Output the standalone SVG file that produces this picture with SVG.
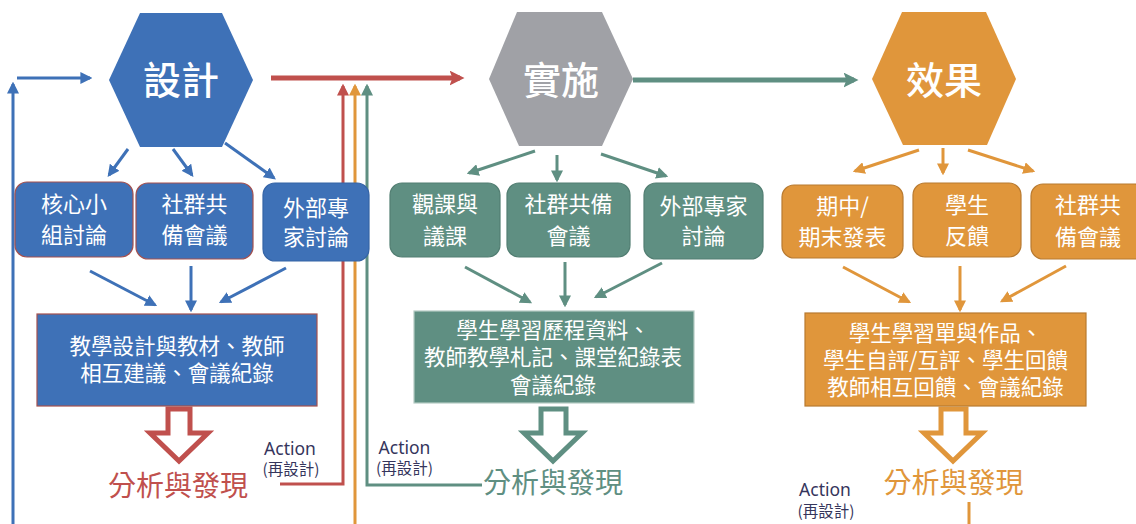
<svg xmlns="http://www.w3.org/2000/svg" width="1136" height="524" viewBox="0 0 1136 524">
<style>
text{font-family:"Noto Sans CJK TC","Noto Sans CJK SC",sans-serif;}
.hex{font-size:38px;fill:#fff;text-anchor:middle;font-weight:500}
.bt{font-size:22px;fill:#fff;text-anchor:middle}
.rt{font-size:21.5px;fill:#fff;text-anchor:middle}
.an{font-size:28px;text-anchor:middle}
.act{font-family:"Noto Sans","Open Sans",sans-serif;font-size:17.5px;fill:#35355c;text-anchor:middle}
.re{font-size:15.5px;fill:#35355c;text-anchor:middle}
.bl{stroke:#3e71b7;stroke-width:3;fill:none}
.gr{stroke:#5f8f82;stroke-width:3;fill:none}
.og{stroke:#e0963b;stroke-width:3;fill:none}
.rd{stroke:#c0504d;stroke-width:3;fill:none}
.hollow{fill:#fff;stroke-width:5;stroke-linejoin:miter}
</style>
<defs>
<marker id="mb" viewBox="0 0 10 10" refX="8" refY="5" markerWidth="4" markerHeight="4" orient="auto"><path d="M0,0 L10,5 L0,10 z" fill="#3e71b7"/></marker>
<marker id="mg" viewBox="0 0 10 10" refX="8" refY="5" markerWidth="4" markerHeight="4" orient="auto"><path d="M0,0 L10,5 L0,10 z" fill="#5f8f82"/></marker>
<marker id="mo" viewBox="0 0 10 10" refX="8" refY="5" markerWidth="4" markerHeight="4" orient="auto"><path d="M0,0 L10,5 L0,10 z" fill="#e0963b"/></marker>
<marker id="mr" viewBox="0 0 10 10" refX="8" refY="5" markerWidth="4" markerHeight="4" orient="auto"><path d="M0,0 L10,5 L0,10 z" fill="#c0504d"/></marker>
<marker id="mrT" viewBox="0 0 10 10" refX="7" refY="5" markerWidth="3" markerHeight="3" orient="auto"><path d="M0,0 L10,5 L0,10 L2,5 z" fill="#c0504d"/></marker>
<marker id="mgT" viewBox="0 0 10 10" refX="7" refY="5" markerWidth="3" markerHeight="3" orient="auto"><path d="M0,0 L10,5 L0,10 L2,5 z" fill="#5f8f82"/></marker>
</defs>

<g id="connectors">
<line class="bl" x1="17" y1="78" x2="90" y2="78" marker-end="url(#mb)"/>
<line class="bl" x1="13" y1="524" x2="13" y2="84" marker-end="url(#mb)"/>
<line class="rd" x1="271" y1="78" x2="460" y2="78" style="stroke-width:5" marker-end="url(#mrT)"/>
<polyline class="rd" points="280,484 343,484 343,86" marker-end="url(#mr)"/>
<line class="og" x1="355" y1="524" x2="355" y2="86" marker-end="url(#mo)"/>
<polyline class="gr" points="482,485 367,485 367,86" marker-end="url(#mg)"/>
<line class="gr" x1="633" y1="80" x2="854" y2="80" style="stroke-width:5" marker-end="url(#mgT)"/>
<line class="og" x1="969" y1="502" x2="969" y2="524"/>

<line class="bl" x1="128" y1="149" x2="109" y2="175" marker-end="url(#mb)"/>
<line class="bl" x1="173" y1="149" x2="192" y2="175" marker-end="url(#mb)"/>
<line class="bl" x1="225" y1="143" x2="274" y2="178" marker-end="url(#mb)"/>
<line class="bl" x1="90" y1="271" x2="155" y2="305" marker-end="url(#mb)"/>
<line class="bl" x1="191" y1="266" x2="191" y2="310" marker-end="url(#mb)"/>
<line class="bl" x1="286" y1="268" x2="221" y2="302" marker-end="url(#mb)"/>

<line class="gr" x1="535" y1="151" x2="469" y2="173" marker-end="url(#mg)"/>
<line class="gr" x1="557" y1="155" x2="557" y2="180" marker-end="url(#mg)"/>
<line class="gr" x1="601" y1="154" x2="666" y2="176" marker-end="url(#mg)"/>
<line class="gr" x1="465" y1="267" x2="530" y2="302" marker-end="url(#mg)"/>
<line class="gr" x1="565" y1="262" x2="565" y2="305" marker-end="url(#mg)"/>
<line class="gr" x1="662" y1="263" x2="596" y2="297" marker-end="url(#mg)"/>

<line class="og" x1="919" y1="150" x2="855" y2="171" marker-end="url(#mo)"/>
<line class="og" x1="943" y1="148" x2="943" y2="173" marker-end="url(#mo)"/>
<line class="og" x1="968" y1="150" x2="1033" y2="171" marker-end="url(#mo)"/>
<line class="og" x1="843" y1="267" x2="909" y2="302" marker-end="url(#mo)"/>
<line class="og" x1="960" y1="266" x2="960" y2="310" marker-end="url(#mo)"/>
<line class="og" x1="1066" y1="266" x2="1002" y2="301" marker-end="url(#mo)"/>

<path class="hollow" stroke="#c0504d" d="M168,409 H190 V433 H208 L179,461 L150,433 H168 Z"/>
<path class="hollow" stroke="#5f8f82" d="M541,409 H566 V433 H582 L553,461 L524,433 H541 Z"/>
<path class="hollow" stroke="#e0963b" d="M941,409 H966 V433 H982 L953,461 L924,433 H941 Z"/>
</g>

<g id="design">
<polygon points="140,13 222,13 253,80 222,147 140,147 109,80" fill="#3e71b7"/>
<text class="hex" x="181" y="94">設計</text>
</g>
<g id="d1">
<rect x="15" y="182" width="118" height="75" rx="12" fill="#3e71b7" stroke="#a5504e" stroke-width="1.2"/>
<text class="bt" x="74" y="212">核心小</text><text class="bt" x="74" y="243">組討論</text>
</g>
<g id="d2">
<rect x="136" y="183" width="117" height="76" rx="12" fill="#3e71b7" stroke="#a5504e" stroke-width="1.2"/>
<text class="bt" x="194.5" y="212">社群共</text><text class="bt" x="194.5" y="243">備會議</text>
</g>
<g id="d3">
<rect x="263" y="183" width="106" height="78" rx="12" fill="#3e71b7" stroke="#3564a6" stroke-width="1.2"/>
<text class="bt" x="316" y="216">外部專</text><text class="bt" x="316" y="245">家討論</text>
</g>
<g id="d-rec">
<rect x="37" y="314" width="280" height="92" fill="#3e71b7" stroke="#a5504e" stroke-width="1.2"/>
<text class="rt" x="177" y="354">教學設計與教材、教師</text>
<text class="rt" x="177" y="381">相互建議、會議紀錄</text>
</g>
<g id="d-an">
<text class="an" x="178" y="496" fill="#c0504d">分析與發現</text>
<text class="act" x="290" y="455">Action</text>
<text class="re" x="291" y="475">(再設計)</text>
</g>

<g id="implement">
<polygon points="517,12 602,12 633,79 602,146 519,146 489,79" fill="#a0a1a6"/>
<text class="hex" x="561" y="94">實施</text>
</g>
<g id="i1">
<rect x="390" y="183" width="110" height="74" rx="12" fill="#5f8f82" stroke="#527e72" stroke-width="1.2"/>
<text class="bt" x="445" y="212">觀課與</text><text class="bt" x="445" y="244">議課</text>
</g>
<g id="i2">
<rect x="507" y="183" width="123" height="74" rx="12" fill="#5f8f82" stroke="#527e72" stroke-width="1.2"/>
<text class="bt" x="568.5" y="212">社群共備</text><text class="bt" x="568.5" y="244">會議</text>
</g>
<g id="i3">
<rect x="644" y="183" width="119" height="76" rx="12" fill="#5f8f82" stroke="#527e72" stroke-width="1.2"/>
<text class="bt" x="703.5" y="214">外部專家</text><text class="bt" x="703.5" y="244">討論</text>
</g>
<g id="i-rec">
<rect x="414" y="311" width="280" height="92" fill="#5f8f82" stroke="#b5cbc4" stroke-width="1.2"/>
<text class="rt" x="553" y="338">學生學習歷程資料、</text>
<text class="rt" x="553" y="365">教師教學札記、課堂紀錄表</text>
<text class="rt" x="553" y="393">會議紀錄</text>
</g>
<g id="i-an">
<text class="an" x="553" y="493" fill="#5f8f82">分析與發現</text>
<text class="act" x="404.5" y="454">Action</text>
<text class="re" x="404.5" y="474">(再設計)</text>
</g>

<g id="effect">
<polygon points="902,12 986,12 1016,79 987,145 903,145 872,79" fill="#e0963b"/>
<text class="hex" x="944" y="94">效果</text>
</g>
<g id="e1">
<rect x="782" y="185" width="121" height="73" rx="12" fill="#e0963b" stroke="#b87a30" stroke-width="1.2"/>
<text class="bt" x="842.5" y="214">期中/</text><text class="bt" x="842.5" y="245">期末發表</text>
</g>
<g id="e2">
<rect x="913" y="183" width="108" height="74" rx="12" fill="#e0963b" stroke="#b87a30" stroke-width="1.2"/>
<text class="bt" x="967" y="213">學生</text><text class="bt" x="967" y="244">反饋</text>
</g>
<g id="e3">
<rect x="1031" y="184" width="116" height="75" rx="12" fill="#e0963b" stroke="#b87a30" stroke-width="1.2"/>
<text class="bt" x="1088" y="213">社群共</text><text class="bt" x="1088" y="245">備會議</text>
</g>
<g id="e-rec">
<rect x="805" y="313" width="281" height="93" fill="#e0963b" stroke="#b87a30" stroke-width="1.2"/>
<text class="rt" x="945.5" y="341">學生學習單與作品、</text>
<text class="rt" x="945.5" y="368">學生自評/互評、學生回饋</text>
<text class="rt" x="945.5" y="395">教師相互回饋、會議紀錄</text>
</g>
<g id="e-an">
<text class="an" x="953.5" y="493" fill="#e0963b">分析與發現</text>
<text class="act" x="825" y="496">Action</text>
<text class="re" x="826" y="517">(再設計)</text>
</g>
</svg>
